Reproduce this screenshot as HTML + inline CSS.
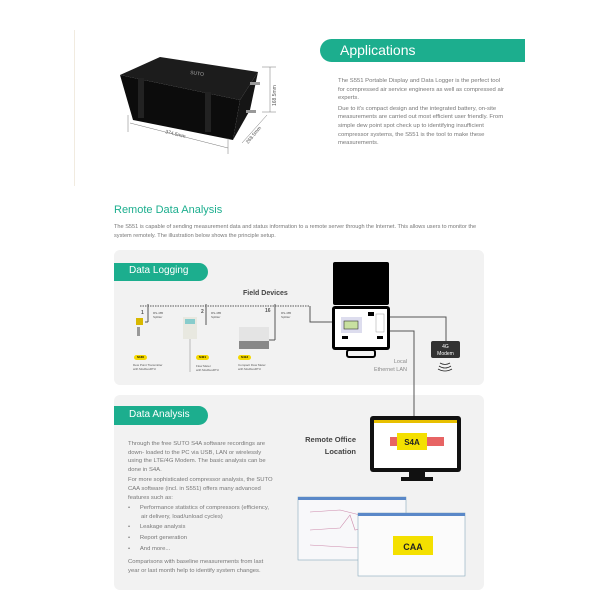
<!DOCTYPE html>
<html><head><meta charset="utf-8"><style>
body{margin:0;width:600px;height:600px;background:#fff;position:relative;overflow:hidden;font-family:"Liberation Sans",sans-serif}
.a{position:absolute}
.t{color:#777;font-size:5.9px;line-height:8.6px}
.pill{position:absolute;background:#1cae8e;color:#fff;border-radius:0 12px 12px 0}
.y{position:absolute;background:#f4d800;font-size:3px;font-weight:bold;padding:0 3px;border-radius:3px;height:5px;line-height:5px}
.s{font-size:3px;color:#555;line-height:4px}
</style></head><body>
<div class="a" style="left:74px;top:30px;width:1px;height:156px;background:#f1ebe0"></div>

<svg class="a" style="left:110px;top:50px" width="170" height="105">
<polygon points="10,25 50,7 148,22 130,50" fill="#1c1c1c"/>
<polygon points="10,25 130,50 123,90 23,70" fill="#0c0c0c"/>
<polygon points="130,50 148,22 140,60 123,90" fill="#151515"/>
<rect x="28" y="28" width="6" height="40" fill="#222"/>
<rect x="95" y="42" width="6" height="40" fill="#222"/>
<text x="80" y="24" font-size="5" fill="#aaa" transform="rotate(8 80 24)">SUTO</text>
<rect x="140" y="32" width="10" height="3" fill="#999"/>
<rect x="136" y="60" width="10" height="3" fill="#999"/>
<g stroke="#777" stroke-width=".5">
<line x1="18" y1="65" x2="18" y2="82"/>
<line x1="20" y1="73" x2="118" y2="98"/>
<line x1="118" y1="88" x2="118" y2="104"/>
<line x1="160" y1="17" x2="160" y2="62"/>
<line x1="152" y1="17" x2="166" y2="17"/><line x1="152" y1="62" x2="166" y2="62"/>
<line x1="132" y1="93" x2="157" y2="65"/>
</g>
<text x="55" y="83" font-size="5" fill="#555" transform="rotate(14 55 83)">374.5mm</text>
<text x="166" y="56" font-size="5" fill="#555" transform="rotate(-90 166 56)">168.5mm</text>
<text x="138" y="94" font-size="5" fill="#555" transform="rotate(-50 138 94)">268.5mm</text>
</svg>

<div class="pill" style="left:320px;top:39px;width:205px;height:23px;border-radius:12px 0 0 12px"></div>
<div class="a" style="left:340px;top:42px;color:#fff;font-size:14px">Applications</div>
<div class="a t" style="left:338px;top:77px;width:168px">The S551 Portable Display and Data Logger is the perfect tool for compressed air service engineers as well as compressed air experts.<div style="height:2px"></div>Due to it's compact design and the integrated battery, on-site measurements are carried out most efficient user friendly. From simple dew point spot check up to identifying insufficient compressor systems, the S551 is the tool to make these measurements.</div>

<div class="a" style="left:114px;top:204px;color:#1cae8e;font-size:11px">Remote Data Analysis</div>
<div class="a t" style="left:114px;top:223px;width:380px;font-size:5.6px">The S551 is capable of sending measurement data and status information to a remote server through the Internet. This allows users to monitor the system remotely. The illustration below shows the principle setup.</div>

<div class="a" style="left:114px;top:250px;width:370px;height:135px;background:#f2f2f2;border-radius:6px"></div>
<div class="a" style="left:114px;top:395px;width:370px;height:195px;background:#f2f2f2;border-radius:6px"></div>
<div class="pill" style="left:114px;top:263px;width:94px;height:18px"></div>
<div class="a" style="left:129px;top:265px;color:#fff;font-size:10px">Data Logging</div>
<div class="pill" style="left:114px;top:406px;width:94px;height:19px"></div>
<div class="a" style="left:129px;top:409px;color:#fff;font-size:10px">Data Analysis</div>

<div class="a" style="left:243px;top:290px;font-size:7px;font-weight:bold;color:#444">Field Devices</div>
<svg class="a" style="left:0;top:0" width="600" height="600">
<g stroke="#555" stroke-width="1" fill="none">
<line x1="140" y1="306" x2="310" y2="306" stroke-dasharray="1.5 1"/>
<polyline points="310,306 310,322 332,322"/>
<line x1="148" y1="304" x2="148" y2="322"/><line x1="148" y1="322" x2="145" y2="322"/>
<line x1="206" y1="304" x2="206" y2="325"/>
<line x1="275" y1="304" x2="275" y2="340"/><line x1="275" y1="340" x2="265" y2="340"/>
<polyline points="390,317 446,317 446,341"/>
<polyline points="390,331 414,331 414,416"/>
</g>
<rect x="333" y="262" width="56" height="43" rx="2" fill="#000"/>
<rect x="332" y="306" width="58" height="44" rx="3" fill="#000"/>
<rect x="335" y="309" width="52" height="38" fill="#fff"/>
<rect x="341" y="317" width="21" height="16" fill="#dde"/>
<rect x="344" y="321" width="14" height="8" fill="#c8e0a0" stroke="#333" stroke-width=".6"/>
<rect x="368" y="312" width="6" height="4" fill="#000"/>
<rect x="376" y="314" width="8" height="18" fill="#fff" stroke="#888" stroke-width=".4"/>
<rect x="342" y="336" width="6" height="3" fill="#000"/><rect x="377" y="336" width="6" height="3" fill="#000"/>
<rect x="347" y="350" width="28" height="7" rx="2" fill="none" stroke="#000" stroke-width="2"/>
<rect x="431" y="341" width="29" height="17" rx="2" fill="#333"/>
<text x="445.5" y="348" font-size="5" fill="#fff" text-anchor="middle">4G</text>
<text x="445.5" y="355" font-size="5" fill="#fff" text-anchor="middle">Modem</text>
<path d="M440 363 q5 3 10 0 M439 366 q6 4 12 0 M438 369 q7 4 14 0" stroke="#222" fill="none" stroke-width=".8"/>
<text x="407" y="363" font-size="5.5" fill="#888" text-anchor="end">Local</text>
<text x="407" y="371" font-size="5.5" fill="#888" text-anchor="end">Ethernet LAN</text>
<rect x="136" y="318" width="7" height="7" fill="#d8b800"/>
<rect x="137" y="327" width="3" height="9" fill="#999"/>
<rect x="183" y="317" width="14" height="22" fill="#e8e8e0"/><rect x="185" y="319" width="10" height="5" fill="#8cc"/>
<line x1="190" y1="339" x2="190" y2="372" stroke="#ccc" stroke-width="1.5"/>
<rect x="239" y="327" width="30" height="14" fill="#e4e4e4"/><rect x="239" y="341" width="30" height="8" fill="#888"/>
<rect x="370" y="416" width="91" height="56" rx="3" fill="#111"/>
<rect x="374" y="420" width="83" height="48" fill="#fff"/>
<rect x="374" y="420" width="83" height="3" fill="#e8c000"/>
<rect x="390" y="437" width="54" height="9" fill="#d22" opacity=".7"/>
<rect x="397" y="433" width="30" height="17" fill="#f4e000"/>
<text x="412" y="445" font-size="8" font-weight="bold" fill="#222" text-anchor="middle">S4A</text>
<rect x="409" y="472" width="16" height="7" fill="#111"/><rect x="401" y="477" width="32" height="4" fill="#111"/>
<rect x="298" y="497" width="108" height="63" fill="#f8f8fa" stroke="#8ab" stroke-width=".6"/>
<rect x="298" y="497" width="108" height="3" fill="#5a88c8"/>
<path d="M310 512 L340 510 L360 515 L400 514 M310 530 L340 528 L350 515 L355 530 L400 520 M310 545 L360 548 L400 530" stroke="#c8a" stroke-width=".6" fill="none"/>
<rect x="358" y="513" width="107" height="63" fill="#fbfbfb" stroke="#8ab" stroke-width=".6"/>
<rect x="358" y="513" width="107" height="3" fill="#5a88c8"/>
<rect x="393" y="536" width="40" height="19" fill="#f4e000"/>
<text x="413" y="550" font-size="9" font-weight="bold" fill="#222" text-anchor="middle">CAA</text>
</svg>
<div class="a s" style="left:141px;top:311px;font-weight:bold;font-size:5px">1</div>
<div class="a s" style="left:201px;top:310px;font-weight:bold;font-size:5px">2</div>
<div class="a s" style="left:265px;top:309px;font-weight:bold;font-size:5px">16</div>
<div class="a s" style="left:153px;top:311px">RS-485<br>Splitter</div>
<div class="a s" style="left:211px;top:311px">RS-485<br>Splitter</div>
<div class="a s" style="left:281px;top:311px">RS-485<br>Splitter</div>
<div class="y" style="left:134px;top:355px">S130</div>
<div class="y" style="left:196px;top:355px">S401</div>
<div class="y" style="left:238px;top:355px">S413</div>
<div class="a s" style="left:133px;top:363px">Dew Point Transmitter<br>with ModbusRTU</div>
<div class="a s" style="left:196px;top:364px">Flow Meter<br>with ModbusRTU</div>
<div class="a s" style="left:238px;top:363px">Compact Flow Meter<br>with ModbusRTU</div>

<div class="a" style="left:296px;top:434px;width:60px;text-align:right;font-size:7.5px;font-weight:bold;color:#444;line-height:12px">Remote Office<br>Location</div>

<div class="a t" style="left:128px;top:440px;width:148px">Through the free SUTO S4A software recordings are down- loaded to the PC via USB, LAN or wirelessly using the LTE/4G Modem. The basic analysis can be done in S4A.<div style="height:2px"></div>For more sophisticated compressor analysis, the SUTO CAA software (incl. in S551) offers many advanced features such as:<div style="height:2px"></div>
<div style="padding-left:13px;text-indent:-13px">•&nbsp;&nbsp;&nbsp;&nbsp;&nbsp;&nbsp;Performance statistics of compressors (efficiency, air delivery, load/unload cycles)</div><div style="height:2px"></div>
<div>•&nbsp;&nbsp;&nbsp;&nbsp;&nbsp;&nbsp;Leakage analysis</div><div style="height:2px"></div>
<div>•&nbsp;&nbsp;&nbsp;&nbsp;&nbsp;&nbsp;Report generation</div><div style="height:2px"></div>
<div>•&nbsp;&nbsp;&nbsp;&nbsp;&nbsp;&nbsp;And more...</div><div style="height:5px"></div>
Comparisons with baseline measurements from last year or last month help to identify system changes.</div>
</body></html>
